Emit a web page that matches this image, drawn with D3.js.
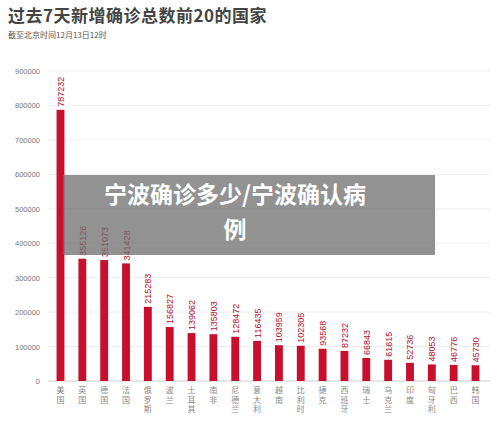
<!DOCTYPE html>
<html><head><meta charset="utf-8">
<script src="https://cdn.jsdelivr.net/npm/d3@7"></script>
<style>body{margin:0;background:#fff;font-family:"Noto Sans CJK SC","Noto Sans",sans-serif;}</style>
</head><body><svg id="c" width="500" height="430"></svg>
<script>
const categories=["美国","英国","德国","法国","俄罗斯","波兰","土耳其","南非","尼德兰","意大利","越南","比利时","捷克","西班牙","瑞士","乌克兰","印度","匈牙利","巴西","韩国"];
const values=[787232,355126,351073,341428,215283,156827,139062,135803,128472,116435,103959,102305,93568,87232,66843,61615,52736,48053,46776,45730];
const yTicks=[0,100000,200000,300000,400000,500000,600000,700000,800000,900000];
const svg=d3.select("#c");
const f='"Noto Sans CJK SC",sans-serif';
svg.append("text").attr("x",8).attr("y",22).attr("font-size",17).attr("font-weight","bold").attr("fill","#444").attr("font-family",f).attr("letter-spacing",0.5).text("过去7天新增确诊总数前20的国家");
svg.append("text").attr("x",8).attr("y",38).attr("font-size",8).attr("fill","#555").attr("font-family",f).text("截至北京时间12月13日12时");
const y=d3.scaleLinear().domain([0,900000]).range([381,71]);
const x=d3.scaleBand().domain(categories).range([50,486]).paddingInner(0.64).paddingOuter(0.3);
const g=svg.append("g");
g.selectAll(".grid").data(yTicks).join("line").attr("x1",48).attr("x2",490).attr("y1",d=>y(d)).attr("y2",d=>y(d)).attr("stroke",d=>d===0?"#ccc":"#eee").attr("stroke-width",1);
g.selectAll(".yl").data(yTicks).join("text").attr("x",40).attr("y",d=>y(d)+3).attr("text-anchor","end").attr("font-size",7.5).attr("fill","#777").attr("font-family","Liberation Sans,sans-serif").text(d=>d);
g.selectAll(".bar").data(values).join("rect").attr("x",(d,i)=>x(categories[i])).attr("width",x.bandwidth()).attr("y",d=>y(d)).attr("height",d=>y(0)-y(d)).attr("fill","#c8102e");
g.selectAll(".vl").data(values).join("text").attr("transform",(d,i)=>`translate(${x(categories[i])+x.bandwidth()/2+3.5},${y(d)-3}) rotate(-90)`).attr("font-size",9).attr("fill","#b00f28").attr("font-family","Liberation Sans,sans-serif").text(d=>d);
categories.forEach((c,i)=>{
  const t=g.append("text").attr("font-size",8).attr("fill","#888").attr("font-family",f).attr("text-anchor","middle");
  [...c].forEach((ch,j)=>t.append("tspan").attr("x",x(c)+x.bandwidth()/2).attr("y",393+j*9.5).text(ch));
});
svg.append("rect").attr("x",63).attr("y",175).attr("width",372).attr("height",80).attr("fill","rgba(110,110,110,0.75)");
const ot=svg.append("text").attr("font-size",23).attr("font-weight","bold").attr("fill","#fff").attr("font-family",f).attr("text-anchor","middle");
ot.append("tspan").attr("x",235).attr("y",203).text("宁波确诊多少/宁波确认病");
ot.append("tspan").attr("x",235).attr("y",238).text("例");
</script></body></html>
